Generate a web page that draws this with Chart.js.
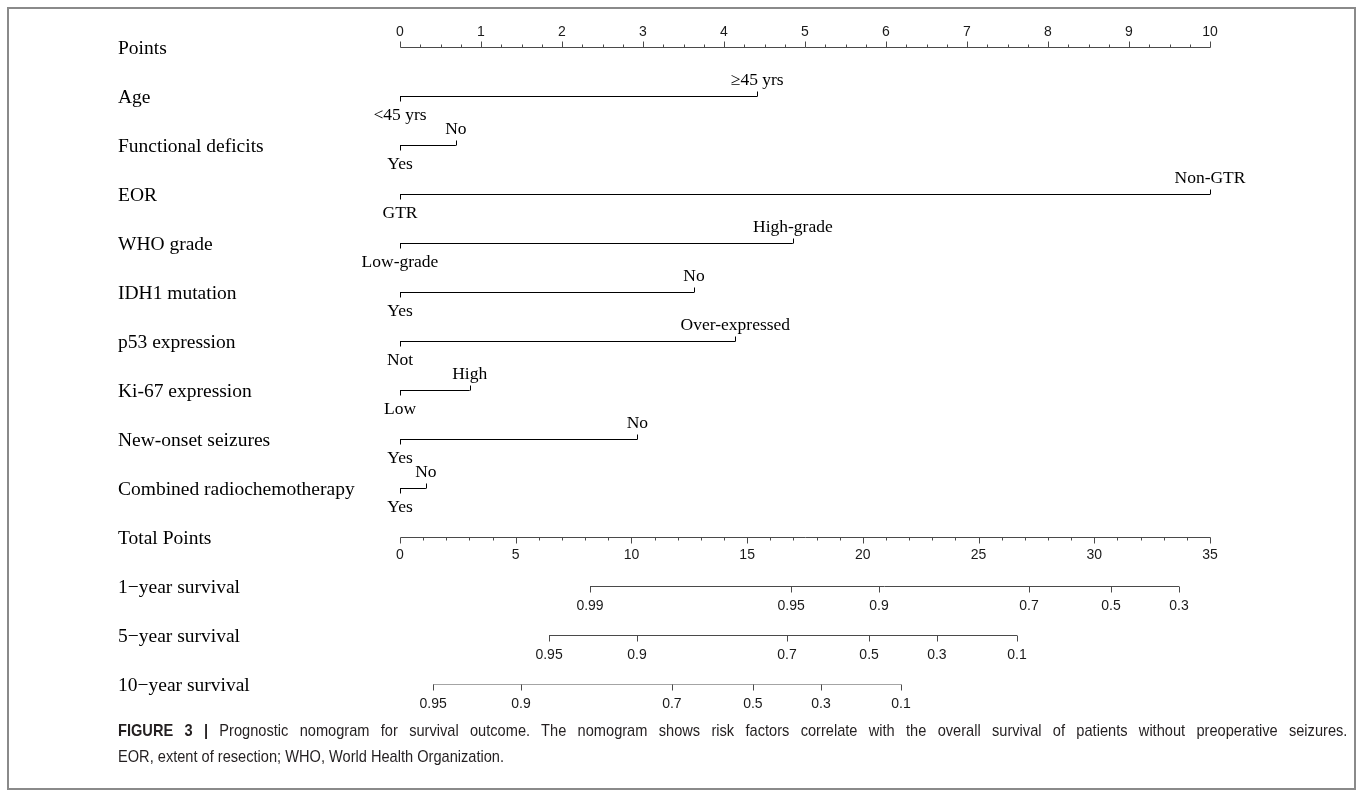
<!DOCTYPE html>
<html>
<head>
<meta charset="utf-8">
<title>Prognostic nomogram</title>
<script src="https://cdn.jsdelivr.net/npm/chart.js@4/dist/chart.umd.min.js"></script>
<style>
  html, body { margin: 0; padding: 0; background: #fff; }
  #wrap { position: relative; width: 1360px; height: 798px; overflow: hidden; }
  #frame { position: absolute; left: 7px; top: 7px; width: 1349px; height: 783px;
           border: 2px solid #8a8a8a; box-sizing: border-box; }
  canvas { position: absolute; left: 0; top: 0; }
  /* slightly condensed caption: set wider, then squeezed horizontally */
  #caption { position: absolute; left: 118px; top: 718px; width: 1397px;
             transform: scaleX(0.88); transform-origin: 0 0;
             font-family: "Liberation Sans", Arial, sans-serif;
             font-size: 16.6px; line-height: 26px; color: #231f20; }
  #caption .l1 { text-align: justify; text-align-last: justify; white-space: nowrap; }
  #caption b { font-weight: bold; }
</style>
</head>
<body>
<div id="wrap">
  <div id="frame"></div>
  <canvas id="nomo" width="1360" height="798"></canvas>
  <div id="caption">
    <div class="l1"><b>FIGURE 3 |</b> Prognostic nomogram for survival outcome. The nomogram shows risk factors correlate with the overall survival of patients without preoperative seizures.</div>
    <div>EOR, extent of resection; WHO, World Health Organization.</div>
  </div>
</div>
<script>
// Row titles, top to bottom
const rowNames = ['Points', 'Age', 'Functional deficits', 'EOR', 'WHO grade', 'IDH1 mutation',
  'p53 expression', 'Ki-67 expression', 'New-onset seizures', 'Combined radiochemotherapy',
  'Total Points', '1\u2212year survival', '5\u2212year survival', '10\u2212year survival'];

// Factor levels and their points (0-10 scale)
const ageLevels = ['<45 yrs', '\u226545 yrs'];
const agePoints = [0, 4.41];
const deficitLevels = ['Yes', 'No'];
const deficitPoints = [0, 0.69];
const eorLevels = ['GTR', 'Non-GTR'];
const eorPoints = [0, 10];
const whoLevels = ['Low-grade', 'High-grade'];
const whoPoints = [0, 4.85];
const idhLevels = ['Yes', 'No'];
const idhPoints = [0, 3.63];
const p53Levels = ['Not', 'Over-expressed'];
const p53Points = [0, 4.14];
const ki67Levels = ['Low', 'High'];
const ki67Points = [0, 0.86];
const seizureLevels = ['Yes', 'No'];
const seizurePoints = [0, 2.93];
const radioLevels = ['Yes', 'No'];
const radioPoints = [0, 0.32];

// Axis tick labels
const pointsTicks = [0, 1, 2, 3, 4, 5, 6, 7, 8, 9, 10];
const totalTicks = [0, 5, 10, 15, 20, 25, 30, 35];

// Survival probabilities and the total points at which they fall
const surv1Labels = ['0.99', '0.95', '0.9', '0.7', '0.5', '0.3'];
const surv1Points = [8.21, 16.9, 20.7, 27.18, 30.72, 33.66];
const surv5Labels = ['0.95', '0.9', '0.7', '0.5', '0.3', '0.1'];
const surv5Points = [6.44, 10.24, 16.72, 20.27, 23.2, 26.66];
const surv10Labels = ['0.95', '0.9', '0.7', '0.5', '0.3', '0.1'];
const surv10Points = [1.43, 5.23, 11.75, 15.25, 18.19, 21.65];

const factors = [
  { row: 1, levels: ageLevels, pts: agePoints },
  { row: 2, levels: deficitLevels, pts: deficitPoints },
  { row: 3, levels: eorLevels, pts: eorPoints },
  { row: 4, levels: whoLevels, pts: whoPoints },
  { row: 5, levels: idhLevels, pts: idhPoints },
  { row: 6, levels: p53Levels, pts: p53Points },
  { row: 7, levels: ki67Levels, pts: ki67Points },
  { row: 8, levels: seizureLevels, pts: seizurePoints },
  { row: 9, levels: radioLevels, pts: radioPoints }
];
const survivals = [
  { row: 11, labels: surv1Labels, pts: surv1Points },
  { row: 12, labels: surv5Labels, pts: surv5Points },
  { row: 13, labels: surv10Labels, pts: surv10Points }
];

const SERIF = '"Liberation Serif", "Times New Roman", serif';
const SANS = '"Liberation Sans", Arial, sans-serif';
const AXIS = '#4a4a4a';

const datasets = [];
factors.forEach(f => datasets.push({
  data: f.pts.map(p => ({ x: p, y: f.row })),
  xAxisID: 'x', yAxisID: 'y',
  showLine: true, pointRadius: 0, borderColor: '#000', borderWidth: 1
}));
survivals.forEach(s => datasets.push({
  data: [{ x: s.pts[0], y: s.row }, { x: s.pts[s.pts.length - 1], y: s.row }],
  xAxisID: 'x2', yAxisID: 'y',
  showLine: true, pointRadius: 0, borderColor: AXIS, borderWidth: 1
}));

// Draws the row titles, the two points axes, the factor end ticks and all labels
const nomogramLayer = {
  id: 'nomogramLayer',
  afterDatasetsDraw(chart) {
    const ctx = chart.ctx;
    const xs = chart.scales.x, xt = chart.scales.x2, ys = chart.scales.y;
    const px = (s, v) => Math.round(s.getPixelForValue(v)) + 0.5;
    const py = r => Math.round(ys.getPixelForValue(r) - 0.5) + 0.5;
    const seg = (x1, y1, x2, y2, c) => {
      ctx.beginPath(); ctx.strokeStyle = c; ctx.lineWidth = 1;
      ctx.moveTo(x1, y1); ctx.lineTo(x2, y2); ctx.stroke();
    };
    ctx.save();

    // row titles
    ctx.fillStyle = '#000';
    ctx.font = '19.5px ' + SERIF;
    ctx.textAlign = 'left'; ctx.textBaseline = 'middle';
    rowNames.forEach((n, i) => ctx.fillText(n, 118, ys.getPixelForValue(i) + 1));

    // Points axis (ticks up, labels above)
    const y0 = py(0);
    seg(px(xs, 0), y0, px(xs, 10), y0, AXIS);
    for (let v = 0; v <= 10.0001; v += 0.25) {
      const major = Math.abs(v - Math.round(v)) < 1e-6;
      seg(px(xs, v), y0, px(xs, v), y0 - (major ? 6 : 3), AXIS);
    }
    ctx.font = '14px ' + SANS; ctx.fillStyle = '#1a1a1a'; ctx.textAlign = 'center';
    pointsTicks.forEach(t => ctx.fillText(String(t), xs.getPixelForValue(t), y0 - 15));

    // Total Points axis (ticks down, labels below)
    const yt = py(10);
    seg(px(xt, 0), yt, px(xt, 35), yt, AXIS);
    for (let v = 0; v <= 35; v += 1) {
      seg(px(xt, v), yt, px(xt, v), yt + (v % 5 === 0 ? 6 : 3), AXIS);
    }
    totalTicks.forEach(t => ctx.fillText(String(t), xt.getPixelForValue(t), yt + 18));

    // survival scales
    survivals.forEach(s => {
      const yy = py(s.row);
      s.pts.forEach((p, k) => {
        seg(px(xt, p), yy, px(xt, p), yy + 6, AXIS);
        ctx.fillText(s.labels[k], xt.getPixelForValue(p), yy + 20);
      });
    });

    // factor lines: low level tick down + label below, high level tick up + label above
    ctx.font = '17.5px ' + SERIF; ctx.fillStyle = '#000';
    factors.forEach(f => {
      const yy = py(f.row);
      const xa = px(xs, f.pts[0]), xb = px(xs, f.pts[1]);
      seg(xa, yy, xa, yy + 5, '#000');
      seg(xb, yy, xb, yy - 5, '#000');
      ctx.fillText(f.levels[0], xs.getPixelForValue(f.pts[0]), yy + 19);
      ctx.fillText(f.levels[1], xs.getPixelForValue(f.pts[1]), yy - 16);
    });
    ctx.restore();
  }
};

new Chart(document.getElementById('nomo'), {
  type: 'scatter',
  data: { datasets },
  options: {
    responsive: false,
    animation: false,
    devicePixelRatio: 1,
    layout: { padding: { left: 400, right: 150, top: 47.5, bottom: 113.5 } },
    plugins: { legend: { display: false }, tooltip: { enabled: false } },
    scales: {
      x: { type: 'linear', min: 0, max: 10, display: false },
      x2: { type: 'linear', axis: 'x', position: 'bottom', min: 0, max: 35, display: false },
      y: { type: 'linear', min: 0, max: 13, reverse: true, display: false }
    }
  },
  plugins: [nomogramLayer]
});
</script>
</body>
</html>
